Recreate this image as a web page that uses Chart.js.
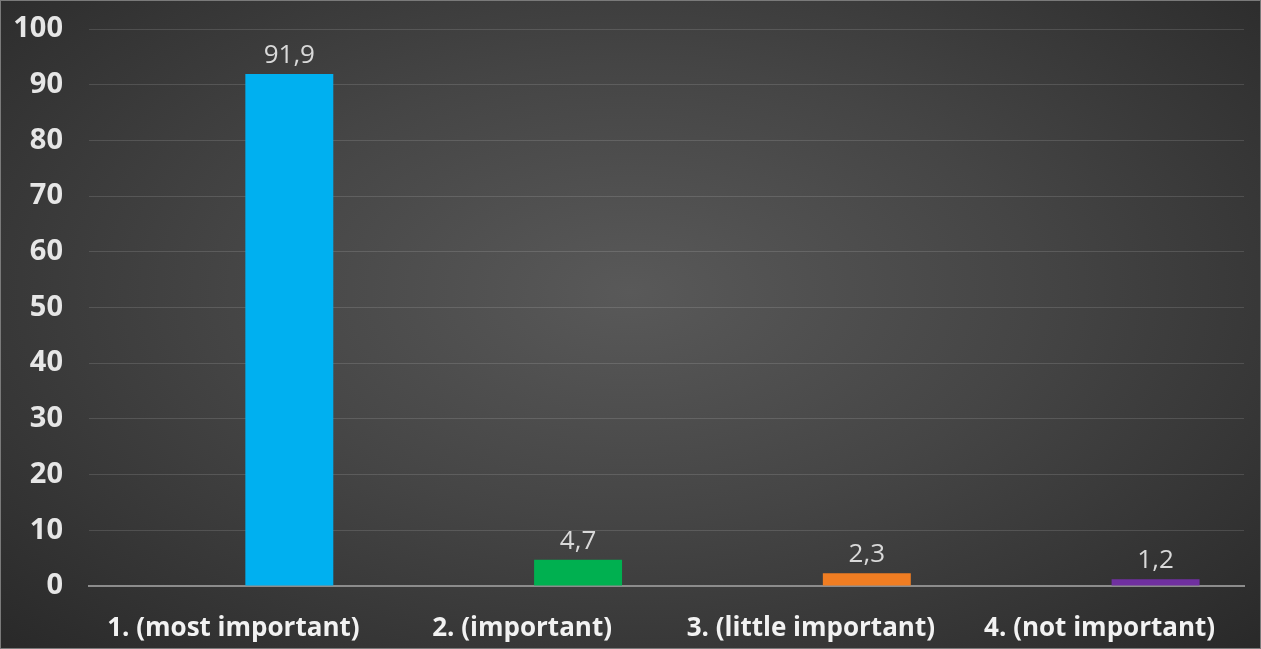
<!DOCTYPE html>
<html>
<head>
<meta charset="utf-8">
<script src="https://cdn.jsdelivr.net/npm/chart.js@4/dist/chart.umd.min.js"></script>
<style>
    html, body { margin: 0; padding: 0; }
    body { width: 1261px; height: 649px; overflow: hidden; }
    #wrap {
        position: relative;
        width: 1261px;
        height: 649px;
        box-sizing: border-box;
        border: 1px solid #7a7a7a;
        background: radial-gradient(ellipse at 50% 45%, #595959 0%, #454545 45%, #292929 100%);
    }
</style>
</head>
<body>
<div id="wrap"><canvas id="importanceChart"></canvas></div>
<script>
var categories = ['1. (most important)', '2. (important)', '3. (little important)', '4. (not important)'];
var percentages = [91.9, 4.7, 2.3, 1.2];
var spacer = [null, null, null, null];
var barColors = ['#00B0F0', '#00B050', '#F07D22', '#7030A0'];
var yTicks = [0, 10, 20, 30, 40, 50, 60, 70, 80, 90, 100];

document.addEventListener('DOMContentLoaded', (event) => {
    // labels above each bar, comma as decimal separator
    var valueLabels = {
        id: 'valueLabels',
        afterDatasetsDraw: function (chart) {
            var ctx = chart.ctx;
            var meta = chart.getDatasetMeta(1);
            ctx.save();
            ctx.font = '26px "Open Sans", sans-serif';
            ctx.fillStyle = '#d9d9d9';
            ctx.textAlign = 'center';
            ctx.textBaseline = 'alphabetic';
            meta.data.forEach(function (bar, i) {
                var txt = percentages[i].toFixed(1).replace('.', ',');
                ctx.fillText(txt, bar.x, bar.y - 11);
            });
            ctx.restore();
        }
    };

    var ctx1 = document.getElementById('importanceChart').getContext('2d');
    var importanceChart = new Chart(ctx1, {
        type: 'bar',
        data: {
            labels: categories,
            datasets: [
                {
                    label: 'spacer',
                    data: spacer,
                    backgroundColor: 'rgba(0,0,0,0)'
                },
                {
                    label: 'Importance',
                    data: percentages,
                    backgroundColor: barColors,
                    borderWidth: 0
                }
            ]
        },
        options: {
            responsive: true,
            maintainAspectRatio: false,
            animation: false,
            categoryPercentage: 0.775,
            barPercentage: 0.786,
            layout: {
                padding: { top: 28, right: 16, left: 0, bottom: 0 }
            },
            plugins: {
                legend: { display: false },
                tooltip: { enabled: false }
            },
            scales: {
                x: {
                    grid: { display: false, drawTicks: false },
                    border: { color: '#8c8c8c', width: 2 },
                    ticks: {
                        color: '#f2f2f2',
                        padding: 27,
                        font: { family: '"Open Sans", sans-serif', size: 26, weight: 'bold' }
                    },
                    afterFit: function (scale) { scale.height = 62; }
                },
                y: {
                    min: 0,
                    max: 100,
                    afterBuildTicks: function (scale) {
                        scale.ticks = yTicks.map(function (v) { return { value: v }; });
                    },
                    grid: { color: 'rgba(255,255,255,0.13)', drawTicks: false },
                    border: { display: false },
                    ticks: {
                        color: '#e6e6e6',
                        padding: 26,
                        font: { family: '"Open Sans", sans-serif', size: 29, weight: 'bold' }
                    },
                    afterFit: function (scale) {
                        scale.width = 88;
                        scale.paddingTop = 0;
                        scale.paddingBottom = 0;
                    }
                }
            }
        },
        plugins: [valueLabels]
    });
});
</script>
</body>
</html>
